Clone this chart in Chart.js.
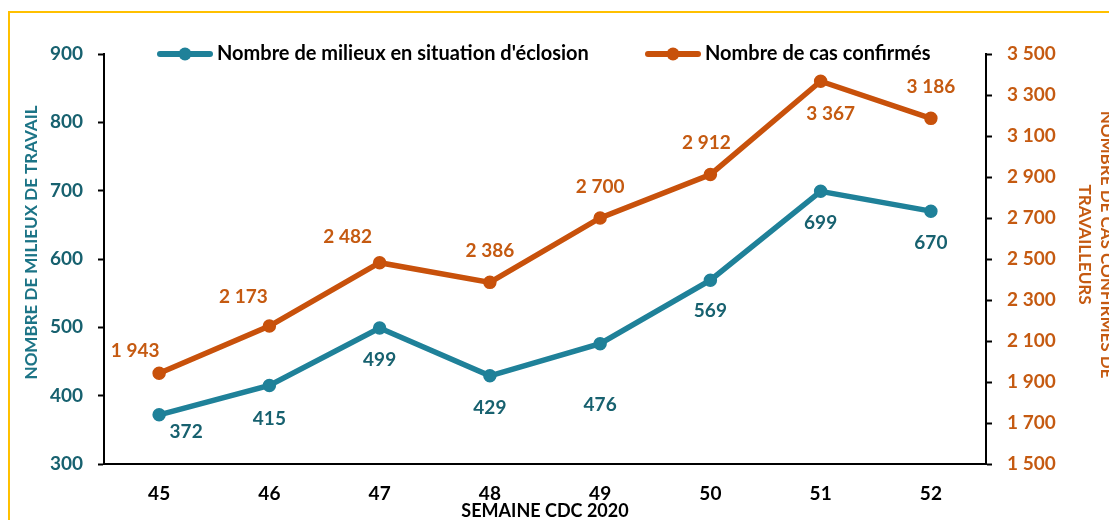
<!DOCTYPE html>
<html>
<head>
<meta charset="utf-8">
<script src="https://cdn.jsdelivr.net/npm/chart.js@4.4.0/dist/chart.umd.min.js"></script>
<style>
  html, body { margin: 0; padding: 0; background: #fff; overflow: hidden; width: 1109px; height: 520px; }
  #frame { position: absolute; left: 8px; top: 11px; width: 1200px; height: 600px; border: 2px solid #FFC000; }
  #wrap { position: absolute; left: 0; top: 0; width: 1119px; height: 520px; }
</style>
</head>
<body>
<div id="frame"></div>
<div id="wrap"><canvas id="chart" width="1119" height="520"></canvas></div>
<script>
// data
const weeks = ['45', '46', '47', '48', '49', '50', '51', '52'];
const milieux = [372, 415, 499, 429, 476, 569, 699, 670];
const casConfirmes = [1943, 2173, 2482, 2386, 2700, 2912, 3367, 3186];
const leftTicks = [300, 400, 500, 600, 700, 800, 900];
const rightTicks = [1500, 1700, 1900, 2100, 2300, 2500, 2700, 2900, 3100, 3300, 3500];

const TEAL = '#1F8199';
const TEAL_TEXT = '#17616F';
const ORANGE = '#C8510B';
const ORANGE_TEXT = '#C55A11';
const FAMILY = "Lato, 'Noto Sans', sans-serif";
const NB = '\u00A0';

Chart.defaults.font.family = FAMILY;
Chart.defaults.font.weight = 'bold';

const fmt = v => String(v).replace(/\B(?=(\d{3})+(?!\d))/g, ' ');

// label placement around each point (text centre, relative to the point)
const tealLabelPos = [[27, 17], [0, 33], [0, 32], [0, 32], [0, 61], [0, 31], [0, 32], [0, 32]];
const orangeLabelPos = [[-24, -22], [-26, -29], [-32, -26], [0, -31], [0, -31], [-4, -32], [10, 33], [0, -31]];

function legendMarker(color) {
  const c = document.createElement('canvas');
  c.width = 56; c.height = 16;
  const g = c.getContext('2d');
  g.strokeStyle = color; g.lineWidth = 6; g.lineCap = 'round';
  g.beginPath(); g.moveTo(3, 8); g.lineTo(53, 8); g.stroke();
  g.fillStyle = color;
  g.beginPath(); g.arc(28, 8, 6.5, 0, Math.PI * 2); g.fill();
  return c;
}
const markers = [legendMarker(TEAL), legendMarker(ORANGE)];

// gap between legend entries so the second one lands where it should
const LEGEND_SIZE = 20;
const mctx = document.createElement('canvas').getContext('2d');
mctx.font = 'bold ' + LEGEND_SIZE + 'px ' + FAMILY;
const tw1 = mctx.measureText("Nombre de milieux en situation d'éclosion").width;
const legendX = 163;
const boxW = 44;
const legendGap = Math.max(10, 651 - legendX - (boxW + LEGEND_SIZE / 2) - tw1);

const valueLabels = {
  id: 'valueLabels',
  afterDatasetsDraw(chart) {
    const ctx = chart.ctx;
    chart.data.datasets.forEach((ds, i) => {
      const meta = chart.getDatasetMeta(i);
      ctx.save();
      ctx.font = 'bold 19px ' + FAMILY;
      ctx.fillStyle = ds.labelColor;
      ctx.textAlign = 'center';
      ctx.textBaseline = 'middle';
      meta.data.forEach((pt, j) => {
        const off = ds.labelPos[j];
        ctx.fillText(fmt(ds.data[j]), pt.x + off[0], pt.y + off[1]);
      });
      ctx.restore();
    });
  }
};

const legendPlace = {
  id: 'legendPlace',
  beforeLayout(chart) {
    const lg = chart.legend;
    if (lg && !lg._fixedFit) {
      const fit = lg.fit.bind(lg);
      lg.fit = function () { fit(); this.height = 54; };
      lg._fixedFit = true;
    }
  },
  afterLayout(chart) {
    const lg = chart.legend;
    const pad = lg.options.labels.padding;
    lg.left = legendX - pad;
    lg.right = chart.width;
    lg.width = lg.right - lg.left;
    lg.top = 54 - pad - LEGEND_SIZE / 2;
    lg.bottom = 80;
    lg.height = lg.bottom - lg.top;
  }
};

new Chart(document.getElementById('chart'), {
  type: 'line',
  data: {
    labels: weeks,
    datasets: [
      {
        label: "Nombre de milieux en situation d'éclosion",
        data: milieux,
        yAxisID: 'y',
        borderColor: TEAL,
        backgroundColor: TEAL,
        borderWidth: 5.5,
        pointRadius: 6,
        pointBorderWidth: 1.5,
        pointBackgroundColor: TEAL,
        tension: 0,
        labelColor: TEAL_TEXT,
        labelPos: tealLabelPos
      },
      {
        label: 'Nombre de cas confirmés',
        data: casConfirmes,
        yAxisID: 'y1',
        borderColor: ORANGE,
        backgroundColor: ORANGE,
        borderWidth: 5.5,
        pointRadius: 6,
        pointBorderWidth: 1.5,
        pointBackgroundColor: ORANGE,
        tension: 0,
        labelColor: ORANGE_TEXT,
        labelPos: orangeLabelPos
      }
    ]
  },
  options: {
    responsive: false,
    animation: false,
    devicePixelRatio: 1,
    layout: { padding: 0 },
    plugins: {
      tooltip: { enabled: false },
      legend: {
        position: 'top',
        align: 'start',
        labels: {
          usePointStyle: true,
          pointStyleWidth: boxW,
          padding: legendGap,
          color: '#000',
          font: { size: LEGEND_SIZE, weight: 'bold' },
          generateLabels(chart) {
            const items = Chart.defaults.plugins.legend.labels.generateLabels(chart);
            items.forEach((it, i) => { it.pointStyle = markers[i]; it.fontColor = '#000'; });
            return items;
          }
        }
      }
    },
    scales: {
      x: {
        offset: true,
        grid: { display: false, drawTicks: false, offset: true },
        border: { display: true, color: '#000', width: 2 },
        ticks: { color: '#000', font: { size: 19, weight: 'bold' }, padding: 18 },
        title: {
          display: true, text: 'SEMAINE CDC 2020', color: '#000',
          font: { size: 18, weight: 'bold', lineHeight: 1 }, padding: 0
        },
        afterFit(s) { s.height = 56; }
      },
      y: {
        position: 'left',
        min: 300, max: 900,
        afterBuildTicks(s) { s.ticks = leftTicks.map(v => ({ value: v })); },
        grid: { drawOnChartArea: false, tickLength: 6, tickColor: '#000', tickWidth: 2 },
        border: { color: '#000', width: 2 },
        ticks: { color: TEAL_TEXT, font: { size: 19, weight: 'bold' }, padding: 15 },
        title: {
          display: true, text: NB.repeat(8) + 'NOMBRE DE MILIEUX DE TRAVAIL', color: '#1C7486',
          font: { size: 17, weight: 'bold', lineHeight: 1.375 }, padding: { top: 20, bottom: 0 }
        },
        afterFit(s) { s.width = 104; }
      },
      y1: {
        position: 'right',
        min: 1500, max: 3500,
        afterBuildTicks(s) { s.ticks = rightTicks.map(v => ({ value: v })); },
        grid: { drawOnChartArea: false, tickLength: 6, tickColor: '#000', tickWidth: 2 },
        border: { color: '#000', width: 2 },
        ticks: { color: ORANGE_TEXT, font: { size: 19, weight: 'bold' }, padding: 15, callback: v => fmt(v) },
        title: {
          display: true,
          text: ['NOMBRE DE CAS CONFIRMÉS DE' + NB.repeat(7), 'TRAVAILLEURS' + NB.repeat(7)],
          color: ORANGE_TEXT,
          font: { size: 17, weight: 'bold', lineHeight: 1.32 }, padding: { top: 1, bottom: 0 }
        },
        afterFit(s) { s.width = 133; }
      }
    }
  },
  plugins: [valueLabels, legendPlace]
});
</script>
</body>
</html>
